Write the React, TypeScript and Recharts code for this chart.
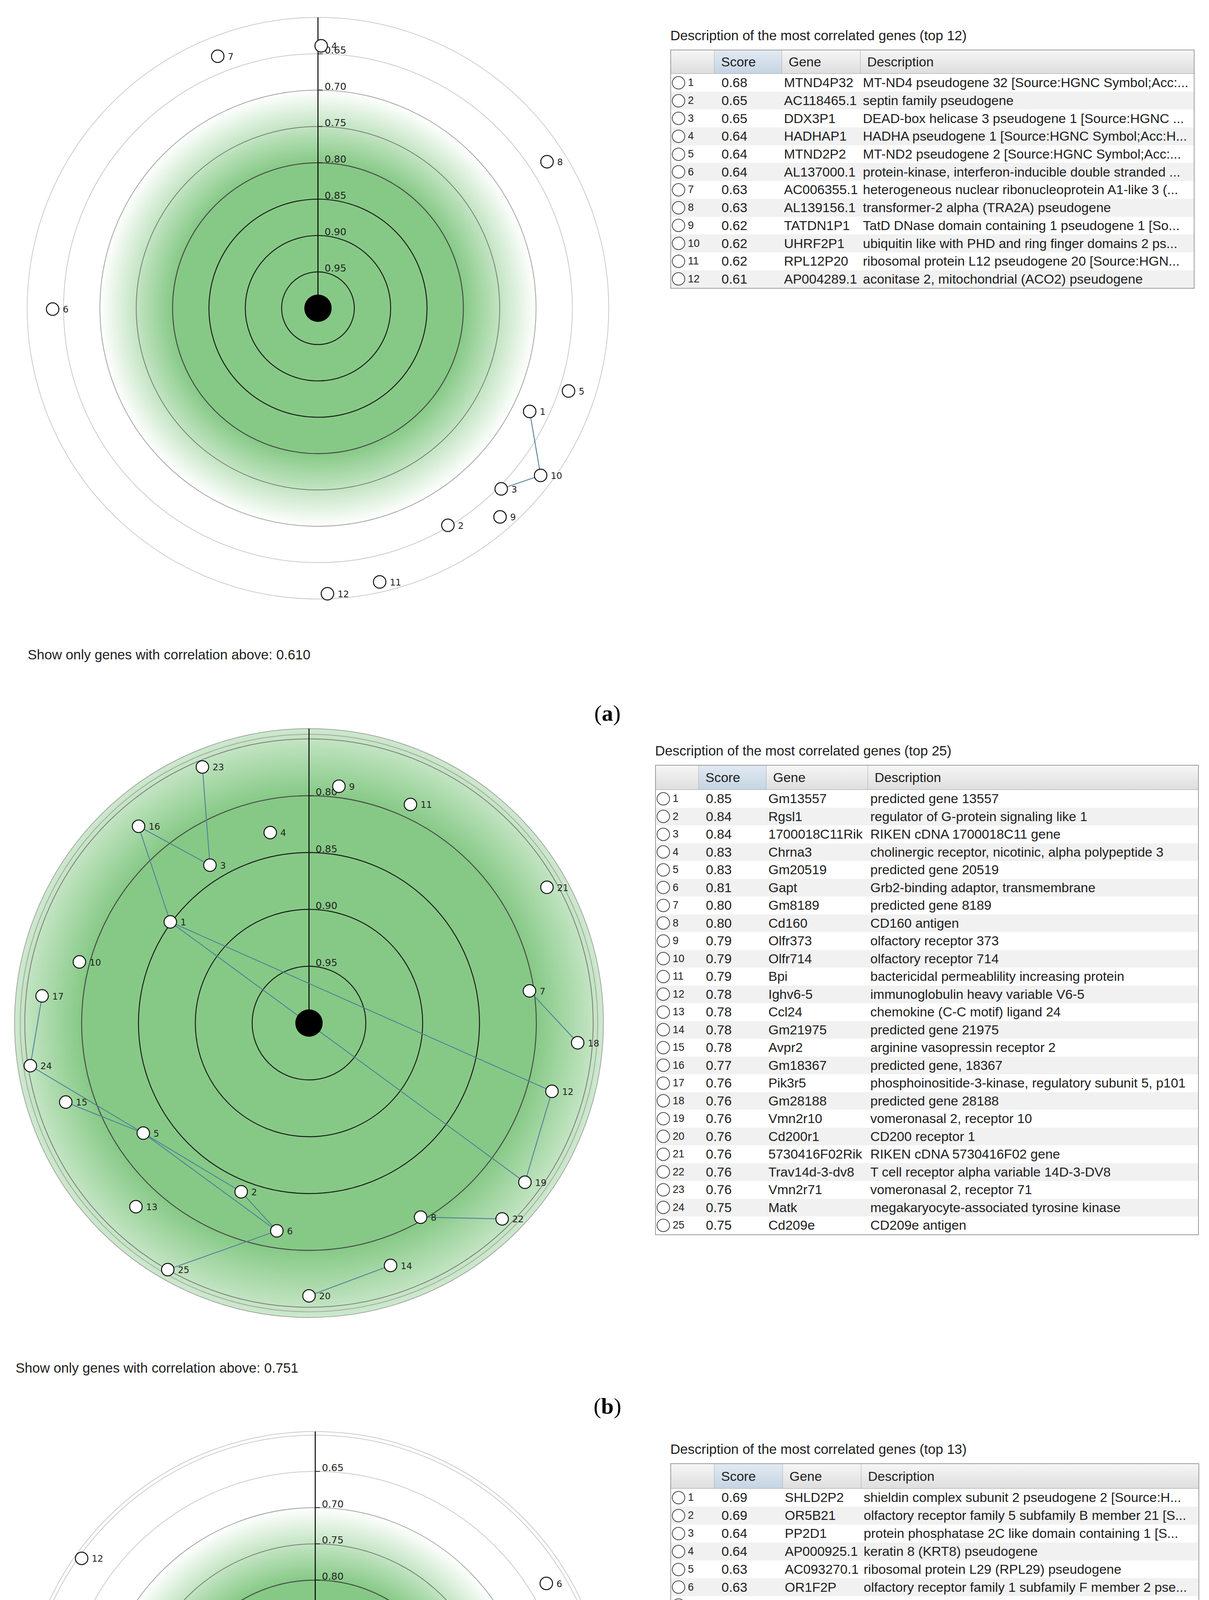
import React from "react";
import { ScatterChart, Scatter, XAxis, YAxis } from "recharts";

const GREEN = "#86c986";
const LINK = "#4f7f98";
const SANS = "'Liberation Sans', Arial, sans-serif";
const PLOT_FONT = "'DejaVu Sans', sans-serif";
// green is solid up to this correlation and fades to white at the next one
const GRAD_FULL = 0.8;
const GRAD_WHITE = 0.7;

// ---- panel (a) ----
const genesA = ["MTND4P32", "AC118465.1", "DDX3P1", "HADHAP1", "MTND2P2", "AL137000.1", "AC006355.1", "AL139156.1", "TATDN1P1", "UHRF2P1", "RPL12P20", "AP004289.1"];
const scoresA = ["0.68", "0.65", "0.65", "0.64", "0.64", "0.64", "0.63", "0.63", "0.62", "0.62", "0.62", "0.61"];
const descA = [
  "MT-ND4 pseudogene 32 [Source:HGNC Symbol;Acc:...",
  "septin family pseudogene",
  "DEAD-box helicase 3 pseudogene 1 [Source:HGNC ...",
  "HADHA pseudogene 1 [Source:HGNC Symbol;Acc:H...",
  "MT-ND2 pseudogene 2 [Source:HGNC Symbol;Acc:...",
  "protein-kinase, interferon-inducible double stranded ...",
  "heterogeneous nuclear ribonucleoprotein A1-like 3 (...",
  "transformer-2 alpha (TRA2A) pseudogene",
  "TatD DNase domain containing 1 pseudogene 1 [So...",
  "ubiquitin like with PHD and ring finger domains 2 ps...",
  "ribosomal protein L12 pseudogene 20 [Source:HGN...",
  "aconitase 2, mitochondrial (ACO2) pseudogene",
];
// plotted correlation (radius) and angle in degrees clockwise from the axis
const corrA = [0.676, 0.652, 0.646, 0.639, 0.637, 0.635, 0.627, 0.626, 0.619, 0.617, 0.614, 0.607];
const anglesA = [116.0, 149.1, 134.6, 0.7, 108.3, 269.8, 338.3, 57.4, 138.9, 126.9, 167.3, 178.1];
const linksA = [[1, 10], [10, 3]];
const ringsA = [0.95, 0.9, 0.85, 0.8, 0.75, 0.7, 0.65];
const borderA = [0.6];
const ticksA = ["0.95", "0.90", "0.85", "0.80", "0.75", "0.70", "0.65"];

// ---- panel (b) ----
const genesB = ["Gm13557", "Rgsl1", "1700018C11Rik", "Chrna3", "Gm20519", "Gapt", "Gm8189", "Cd160", "Olfr373", "Olfr714", "Bpi", "Ighv6-5", "Ccl24", "Gm21975", "Avpr2", "Gm18367", "Pik3r5", "Gm28188", "Vmn2r10", "Cd200r1", "5730416F02Rik", "Trav14d-3-dv8", "Vmn2r71", "Matk", "Cd209e"];
const scoresB = ["0.85", "0.84", "0.84", "0.83", "0.83", "0.81", "0.80", "0.80", "0.79", "0.79", "0.79", "0.78", "0.78", "0.78", "0.78", "0.77", "0.76", "0.76", "0.76", "0.76", "0.76", "0.76", "0.76", "0.75", "0.75"];
const descB = [
  "predicted gene 13557",
  "regulator of G-protein signaling like 1",
  "RIKEN cDNA 1700018C11 gene",
  "cholinergic receptor, nicotinic, alpha polypeptide 3",
  "predicted gene 20519",
  "Grb2-binding adaptor, transmembrane",
  "predicted gene 8189",
  "CD160 antigen",
  "olfactory receptor 373",
  "olfactory receptor 714",
  "bactericidal permeablility increasing protein",
  "immunoglobulin heavy variable V6-5",
  "chemokine (C-C motif) ligand 24",
  "predicted gene 21975",
  "arginine vasopressin receptor 2",
  "predicted gene, 18367",
  "phosphoinositide-3-kinase, regulatory subunit 5, p101",
  "predicted gene 28188",
  "vomeronasal 2, receptor 10",
  "CD200 receptor 1",
  "RIKEN cDNA 5730416F02 gene",
  "T cell receptor alpha variable 14D-3-DV8",
  "vomeronasal 2, receptor 71",
  "megakaryocyte-associated tyrosine kinase",
  "CD209e antigen",
];
const corrB = [0.849, 0.84, 0.836, 0.829, 0.825, 0.815, 0.804, 0.803, 0.79, 0.791, 0.788, 0.778, 0.778, 0.775, 0.775, 0.771, 0.764, 0.763, 0.764, 0.76, 0.759, 0.758, 0.756, 0.752, 0.75];
const anglesB = [306.1, 201.9, 327.9, 348.5, 236.4, 188.8, 81.7, 150.1, 7.2, 284.9, 24.9, 105.7, 223.3, 161.4, 252.0, 319.1, 275.8, 94.2, 126.4, 180.0, 60.3, 135.4, 337.4, 261.3, 209.8];
const linksB = [[23, 3], [3, 16], [16, 1], [1, 12], [1, 19], [12, 19], [7, 18], [17, 24], [24, 5], [15, 5], [5, 2], [5, 6], [2, 6], [6, 25], [14, 20], [8, 22]];
const ringsB = [0.95, 0.9, 0.85, 0.8, 0.75];
const borderB = [0.746, 0.741];
const ticksB = ["0.95", "0.90", "0.85", "0.80"];

// ---- panel (c) ----
const genesC = ["SHLD2P2", "OR5B21", "PP2D1", "AP000925.1", "AC093270.1", "OR1F2P", "QRSL1P3", "HTR5BP", "AC010287.1", "RPS2P36", "RPL7P49", "AC003080.1", "AC002400.1"];
const scoresC = ["0.69", "0.69", "0.64", "0.64", "0.63", "0.63", "0.62", "0.62", "0.62", "0.61", "0.61", "0.61", "0.61"];
const descC = [
  "shieldin complex subunit 2 pseudogene 2 [Source:H...",
  "olfactory receptor family 5 subfamily B member 21 [S...",
  "protein phosphatase 2C like domain containing 1 [S...",
  "keratin 8 (KRT8) pseudogene",
  "ribosomal protein L29 (RPL29) pseudogene",
  "olfactory receptor family 1 subfamily F member 2 pse...",
  "QRSL1 pseudogene 3 [Source:HGNC Symbol;Acc:H...",
  "5-hydroxytryptamine receptor 5B, pseudogene [Sourc...",
  "chromosome 10 open reading frame 57 (C10orf57) ...",
  "ribosomal protein S2 pseudogene 36 [Source:HGNC...",
  "ribosomal protein L7 pseudogene 49 [Source:HGNC...",
  "ribosomal protein L8 (RPL8) pseudogene",
  "cyclin Y-like 1 (CCNYL1) pseudogene",
];
const corrC = [0.686, 0.683, 0.636, 0.636, 0.63, 0.626, 0.621, 0.624, 0.618, 0.611, 0.611, 0.604, 0.603];
const anglesC = [292.6, 76.5, 125.1, 240.1, 159.4, 58.5, 221.1, 144.5, 187.7, 260.7, 235.0, 305.5, 228.8];
const linksC = [[4, 11], [11, 13], [11, 7], [13, 7]];
const ringsC = [0.95, 0.9, 0.85, 0.8, 0.75, 0.7, 0.65, 0.6];
const borderC = [0.595];
const ticksC = ["0.95", "0.90", "0.85", "0.80", "0.75", "0.70", "0.65"];

const HALF = 789;

const ringColor = (lv: number) =>
  lv >= 0.85 ? "#1a1a1a" : lv >= 0.8 ? "#484848" : lv >= 0.75 ? "#7a7a7a" : lv >= 0.7 ? "#a4a4a4" : "#cbcbcb";

const toPoint = (c: number, deg: number, id: number) => {
  const r = 1 - c;
  const t = (deg * Math.PI) / 180;
  return { x: r * Math.sin(t), y: r * Math.cos(t), id };
};

const Nothing = () => <g />;

type PlotProps = {
  corr: number[];
  angles: number[];
  links: number[][];
  rings: number[];
  border: number[];
  ticks: string[];
  k: number;
  cx: number;
  cy: number;
  id: string;
};

function RadialPlot({ corr, angles, links, rings, border, ticks, k, cx, cy, id }: PlotProps) {
  const d = HALF / k;
  const pts = corr.map((c, i) => toPoint(c, angles[i], i + 1));
  const outer = Math.min(...border);
  const ringData = [...rings, ...border].map((lv) => ({ x: 0, y: 0, lv }));
  const tickData = ticks.map((t) => ({ x: 0, y: 1 - Number(t), t }));
  const axisData = [{ x: 0, y: 0 }, { x: 0, y: 1 - outer }];
  const full = (1 - GRAD_FULL) / (1 - GRAD_WHITE);

  return (
    <div style={{ position: "absolute", left: cx - HALF, top: cy - HALF }}>
      <ScatterChart width={HALF * 2} height={HALF * 2} margin={{ top: 0, right: 0, bottom: 0, left: 0 }}>
        <XAxis type="number" dataKey="x" domain={[-d, d]} hide allowDataOverflow />
        <YAxis type="number" dataKey="y" domain={[-d, d]} hide allowDataOverflow />
        <Scatter
          data={[{ x: 0, y: 0 }]}
          isAnimationActive={false}
          shape={(p: any) => (
            <g>
              <defs>
                <radialGradient id={id} gradientUnits="userSpaceOnUse" cx={p.cx} cy={p.cy} r={(1 - GRAD_WHITE) * k}>
                  <stop offset="0" stopColor={GREEN} />
                  <stop offset={full} stopColor={GREEN} />
                  <stop offset="1" stopColor="#ffffff" />
                </radialGradient>
              </defs>
              <circle cx={p.cx} cy={p.cy} r={(1 - outer) * k} fill={`url(#${id})`} />
            </g>
          )}
        />
        <Scatter
          data={ringData}
          isAnimationActive={false}
          shape={(p: any) => (
            <circle
              cx={p.cx}
              cy={p.cy}
              r={(1 - p.payload.lv) * k}
              fill="none"
              stroke={ringColor(p.payload.lv)}
              strokeWidth={p.payload.lv >= 0.8 ? 2.4 : 2}
            />
          )}
        />
        <Scatter data={axisData} isAnimationActive={false} line={{ stroke: "#000", strokeWidth: 2.5 }} shape={Nothing} />
        <Scatter
          data={tickData}
          isAnimationActive={false}
          shape={(p: any) => (
            <g>
              <line x1={p.cx} y1={p.cy} x2={p.cx + 12} y2={p.cy} stroke="#222" strokeWidth={2} />
              <text x={p.cx + 17} y={p.cy - 1} fontSize={25} fontFamily={PLOT_FONT} fill="#222">
                {p.payload.t}
              </text>
            </g>
          )}
        />
        {links.map(([a, b], i) => (
          <Scatter
            key={i}
            data={[pts[a - 1], pts[b - 1]]}
            isAnimationActive={false}
            line={{ stroke: LINK, strokeWidth: 2.2 }}
            shape={Nothing}
          />
        ))}
        <Scatter
          data={pts}
          isAnimationActive={false}
          shape={(p: any) => (
            <g>
              <circle cx={p.cx} cy={p.cy} r={16} fill="#fff" stroke="#111" strokeWidth={2.5} />
              <text x={p.cx + 26} y={p.cy + 9} fontSize={23} fontFamily={PLOT_FONT} fill="#222">
                {p.payload.id}
              </text>
            </g>
          )}
        />
        <Scatter
          data={[{ x: 0, y: 0 }]}
          isAnimationActive={false}
          shape={(p: any) => <circle cx={p.cx} cy={p.cy} r={35} fill="#000" />}
        />
      </ScatterChart>
    </div>
  );
}

type TableProps = {
  left: number;
  top: number;
  colW: number[];
  headH: number;
  rowH: number;
  genes: string[];
  scores: string[];
  descs: string[];
};

function GeneTable({ left, top, colW, headH, rowH, genes, scores, descs }: TableProps) {
  const width = colW.reduce((a, b) => a + b, 0);
  const headCell = (w: number, text: string, blue: boolean, last: boolean) => (
    <div
      style={{
        width: w,
        boxSizing: "border-box",
        paddingLeft: 17,
        lineHeight: `${headH}px`,
        background: blue ? "linear-gradient(#e2eaf2, #c5d4e3)" : "linear-gradient(#f6f6f6, #dedede)",
        borderRight: last ? "none" : "1px solid #aeaeae",
      }}
    >
      {text}
    </div>
  );
  return (
    <div style={{ position: "absolute", left, top: top - 72, width, fontFamily: SANS, fontSize: 34, color: "#1e1e1e" }}>
      <div style={{ height: 72, lineHeight: "72px", whiteSpace: "nowrap", fontSize: 35 }}>
        Description of the most correlated genes (top {genes.length})
      </div>
      <div style={{ border: "2px solid #9c9c9c", boxSizing: "border-box", width }}>
        <div style={{ display: "flex", height: headH, borderBottom: "1px solid #a2a2a2" }}>
          {headCell(colW[0], "", false, false)}
          {headCell(colW[1], "Score", true, false)}
          {headCell(colW[2], "Gene", false, false)}
          {headCell(colW[3] - 4, "Description", false, true)}
        </div>
        {genes.map((g, i) => (
          <div
            key={g}
            style={{
              display: "flex",
              height: rowH,
              alignItems: "center",
              whiteSpace: "nowrap",
              background: i % 2 ? "#f1f1f1" : "#ffffff",
            }}
          >
            <div style={{ width: colW[0], display: "flex", alignItems: "center", paddingLeft: 2, boxSizing: "border-box" }}>
              <span
                style={{
                  display: "inline-block",
                  width: 30,
                  height: 30,
                  borderRadius: "50%",
                  border: "2px solid #4a4a4a",
                  background: "#fff",
                }}
              />
              <span style={{ fontSize: 27, marginLeft: 7 }}>{i + 1}</span>
            </div>
            <div style={{ width: colW[1], paddingLeft: 18, boxSizing: "border-box" }}>{scores[i]}</div>
            <div style={{ width: colW[2], paddingLeft: 5, boxSizing: "border-box" }}>{g}</div>
            <div style={{ width: colW[3] - 4, paddingLeft: 6, boxSizing: "border-box" }}>{descs[i]}</div>
          </div>
        ))}
      </div>
    </div>
  );
}

const Caption = ({ left, top, value }: { left: number; top: number; value: string }) => (
  <div style={{ position: "absolute", left, top, fontFamily: SANS, fontSize: 35, color: "#1e1e1e", lineHeight: "40px", whiteSpace: "nowrap" }}>
    Show only genes with correlation above: {value}
  </div>
);

const PanelLabel = ({ top, letter }: { top: number; letter: string }) => (
  <div
    style={{
      position: "absolute",
      left: 1455,
      top,
      width: 200,
      textAlign: "center",
      fontFamily: "'Liberation Serif', 'Times New Roman', serif",
      fontSize: 58,
      lineHeight: "70px",
      color: "#000",
    }}
  >
    (<b>{letter}</b>)
  </div>
);

export default function App() {
  return (
    <div style={{ position: "relative", width: 3095, height: 5512, background: "#fff", overflow: "hidden" }}>
      <style>{"html, body { margin: 0; padding: 0; background: #fff; }"}</style>
      <RadialPlot corr={corrA} angles={anglesA} links={linksA} rings={ringsA} border={borderA} ticks={ticksA} k={1861} cx={814} cy={789} id="gradA" />
      <GeneTable left={1716} top={127} colW={[111, 173, 201, 857]} headH={59} rowH={45.7} genes={genesA} scores={scoresA} descs={descA} />
      <Caption left={71} top={1656} value="0.610" />
      <PanelLabel top={1791} letter="a" />

      <RadialPlot corr={corrB} angles={anglesB} links={linksB} rings={ringsB} border={borderB} ticks={ticksB} k={2910} cx={791} cy={2619} id="gradB" />
      <GeneTable left={1677} top={1958} colW={[110, 173, 260, 849]} headH={61} rowH={45.5} genes={genesB} scores={scoresB} descs={descB} />
      <Caption left={40} top={3482} value="0.751" />
      <PanelLabel top={3565} letter="b" />

      <RadialPlot corr={corrC} angles={anglesC} links={linksC} rings={ringsC} border={borderC} ticks={ticksC} k={1855} cx={807} cy={4416} id="gradC" />
      <GeneTable left={1716} top={3746} colW={[111, 175, 201, 867]} headH={62} rowH={45.9} genes={genesC} scores={scoresC} descs={descC} />
      <Caption left={57} top={5290} value="0.605" />
      <PanelLabel top={5398} letter="c" />
    </div>
  );
}
